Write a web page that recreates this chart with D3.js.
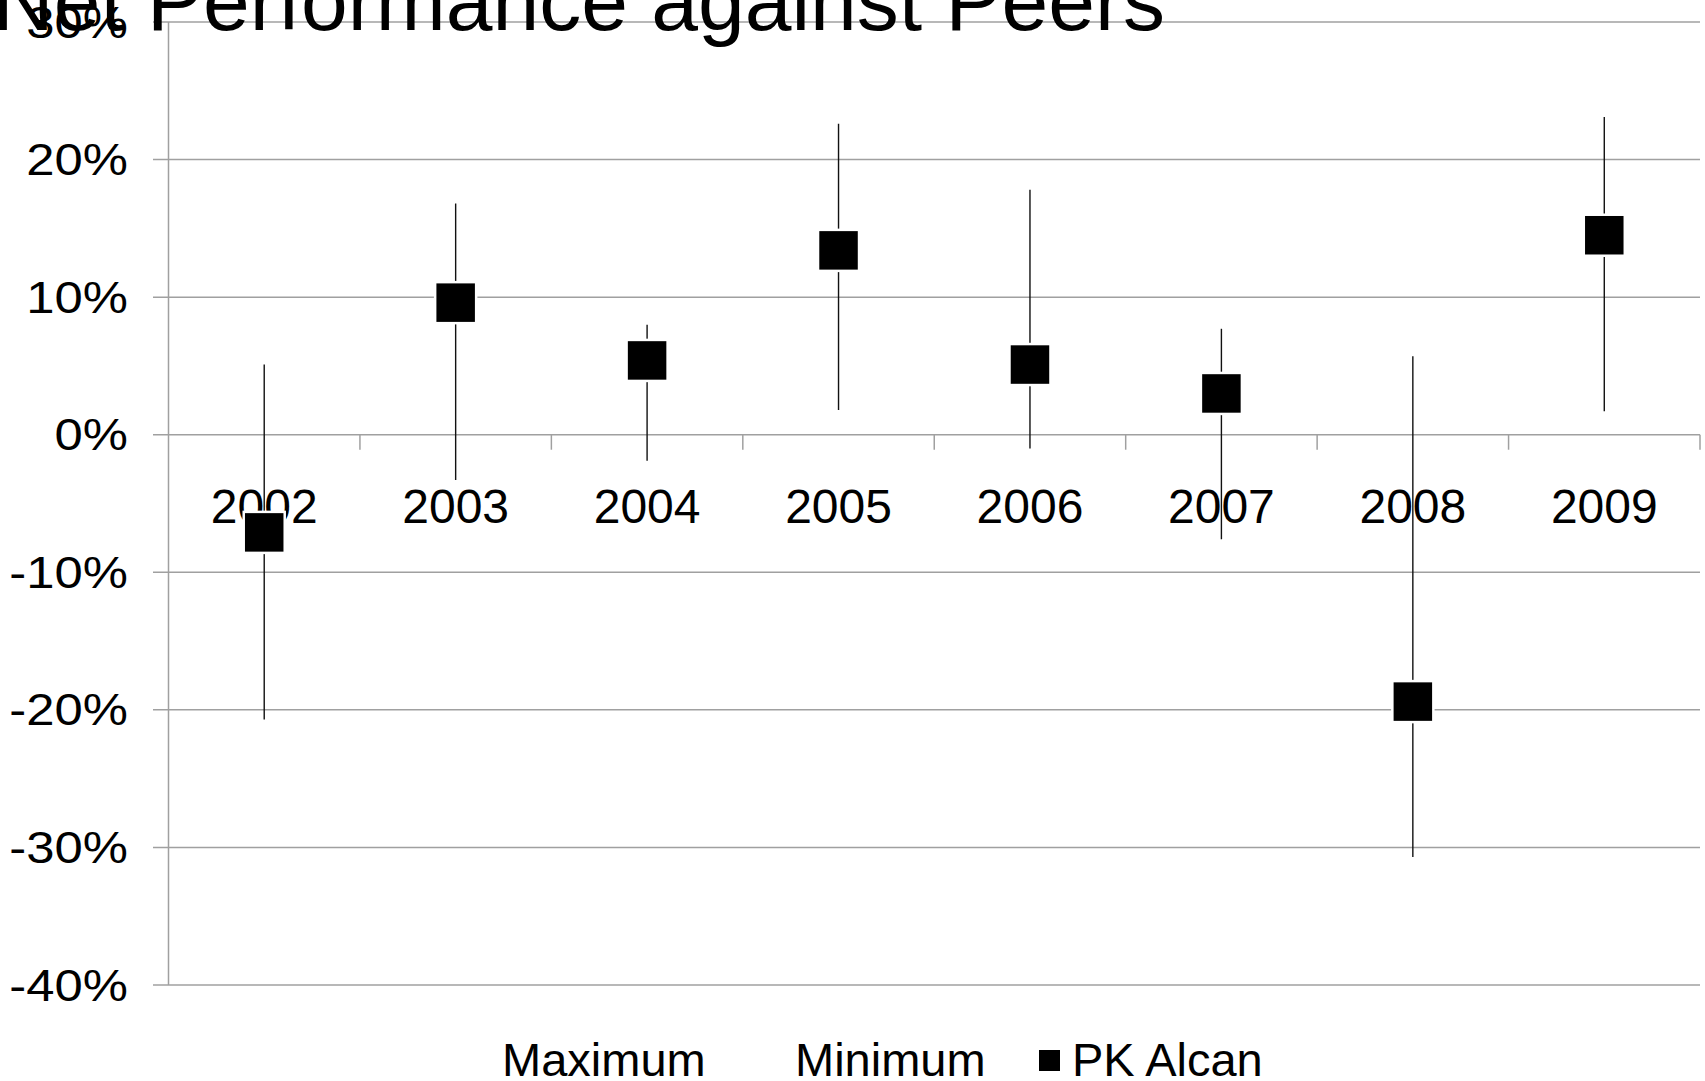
<!DOCTYPE html>
<html>
<head>
<meta charset="utf-8">
<title>Net Performance against Peers</title>
<script src="https://cdn.jsdelivr.net/npm/d3@7"></script>
<style>
    body { margin: 0; background: #fff; overflow: hidden; }
    svg { display: block; font-family: "Liberation Sans", Arial, sans-serif; }
</style>
</head>
<body>
<div id="container"></div>
<script>
// chart data (percent)
const years = ["2002", "2003", "2004", "2005", "2006", "2007", "2008", "2009"];
const maxValues = [5.1, 16.8, 8.0, 22.6, 17.8, 7.7, 5.7, 23.1];
const minValues = [-20.7, -3.3, -1.9, 1.8, -1.0, -7.6, -30.7, 1.7];
const pkAlcan = [-7.1, 9.6, 5.4, 13.4, 5.1, 3.0, -19.4, 14.5];
const yTicks = [30, 20, 10, 0, -10, -20, -30, -40];
const legendLabels = ["Maximum", "Minimum", "PK Alcan"];

const width = 1705, height = 1081;

const svg = d3.select("#container")
    .append("svg")
    .attr("width", width)
    .attr("height", height);

// scales
const x = d3.scaleBand()
    .domain(years)
    .range([168.5, 1700]);

const y = d3.scaleLinear()
    .domain([-40, 30])
    .range([985, 22]);

// horizontal gridlines (they also run out left as ticks)
svg.append("g")
    .selectAll("line")
    .data(yTicks)
    .enter()
    .append("line")
    .attr("x1", 153)
    .attr("x2", 1700)
    .attr("y1", d => y(d))
    .attr("y2", d => y(d))
    .attr("stroke", "#a0a0a0")
    .attr("stroke-width", 1.5);

// vertical axis line
svg.append("line")
    .attr("x1", x.range()[0])
    .attr("x2", x.range()[0])
    .attr("y1", y(30))
    .attr("y2", y(-40))
    .attr("stroke", "#a0a0a0")
    .attr("stroke-width", 1.5);

// category ticks on the 0% line
const boundaries = years.map(d => x(d) + x.bandwidth());
svg.append("g")
    .selectAll("line")
    .data(boundaries)
    .enter()
    .append("line")
    .attr("x1", d => d)
    .attr("x2", d => d)
    .attr("y1", y(0))
    .attr("y2", y(0) + 15)
    .attr("stroke", "#a0a0a0")
    .attr("stroke-width", 1.5);

// y labels (a bit wider than normal text in the original)
svg.append("g")
    .selectAll("text")
    .data(yTicks)
    .enter()
    .append("text")
    .attr("transform", d => "translate(128," + (y(d) + 15.5) + ") scale(1.13,1)")
    .attr("text-anchor", "end")
    .attr("font-size", 45)
    .attr("fill", "#000")
    .text(d => d + "%");

// x labels sit under the 0% line
svg.append("g")
    .selectAll("text")
    .data(years)
    .enter()
    .append("text")
    .attr("x", d => x(d) + x.bandwidth() / 2)
    .attr("y", y(0) + 88)
    .attr("text-anchor", "middle")
    .attr("font-size", 48)
    .attr("fill", "#000")
    .text(d => d);

// high-low lines
const rows = years.map((yr, i) => ({year: yr, max: maxValues[i], min: minValues[i], pk: pkAlcan[i]}));

svg.append("g")
    .selectAll("line")
    .data(rows)
    .enter()
    .append("line")
    .attr("x1", d => x(d.year) + x.bandwidth() / 2)
    .attr("x2", d => x(d.year) + x.bandwidth() / 2)
    .attr("y1", d => y(d.max))
    .attr("y2", d => y(d.min))
    .attr("stroke", "#111")
    .attr("stroke-width", 1.4);

// PK Alcan markers
const size = 41;
svg.append("g")
    .selectAll("rect")
    .data(rows)
    .enter()
    .append("rect")
    .attr("x", d => x(d.year) + x.bandwidth() / 2 - size / 2)
    .attr("y", d => y(d.pk) - size / 2)
    .attr("width", size)
    .attr("height", size)
    .attr("fill", "#000")
    .attr("stroke", "#fff")
    .attr("stroke-width", 2.5);

// legend
const legend = svg.append("g").attr("font-size", 47).attr("fill", "#000");
const legendX = [502, 795, 1072];
legend.selectAll("text")
    .data(legendLabels)
    .enter()
    .append("text")
    .attr("x", (d, i) => legendX[i])
    .attr("y", 1076)
    .text(d => d);

legend.append("rect")
    .attr("x", 1039)
    .attr("y", 1050)
    .attr("width", 21)
    .attr("height", 21)
    .attr("fill", "#000");

// title, pushed partly off the top like in the original
svg.append("text")
    .attr("x", -7)
    .attr("y", 30)
    .attr("font-size", 84)
    .attr("fill", "#000")
    .text("Net Performance against Peers");
</script>
</body>
</html>
